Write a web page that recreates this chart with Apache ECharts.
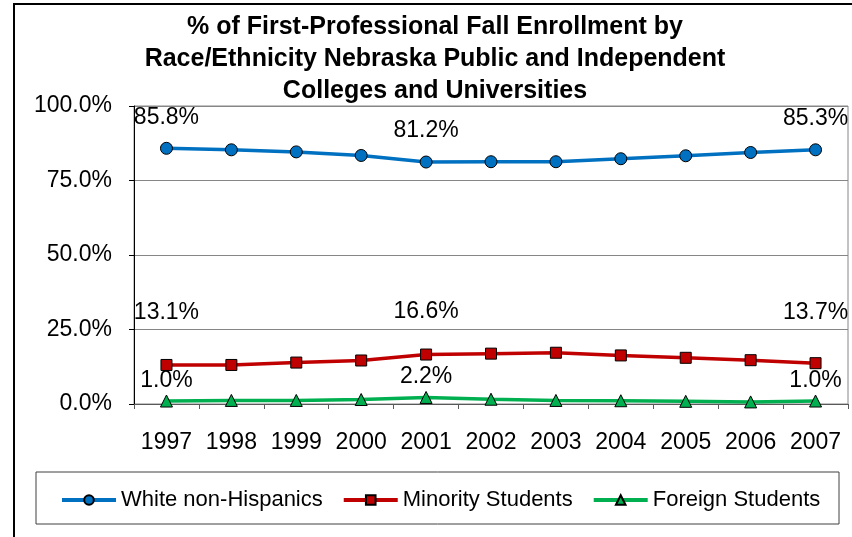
<!DOCTYPE html>
<html>
<head>
<meta charset="utf-8">
<script src="https://cdn.jsdelivr.net/npm/echarts@6/dist/echarts.min.js"></script>
<style>
  html, body { margin: 0; padding: 0; background: #fff; }
  #chart { width: 852px; height: 537px; }
</style>
</head>
<body>
<div id="chart"></div>
<script>
// 数据
const years = ['1997', '1998', '1999', '2000', '2001', '2002', '2003', '2004', '2005', '2006', '2007']
const whiteNonHispanics = [85.8, 85.3, 84.6, 83.4, 81.2, 81.3, 81.3, 82.3, 83.3, 84.4, 85.3]
const minorityStudents = [13.1, 13.1, 13.9, 14.6, 16.6, 16.9, 17.2, 16.3, 15.5, 14.7, 13.7]
const foreignStudents = [1.0, 1.2, 1.2, 1.5, 2.2, 1.6, 1.2, 1.1, 0.9, 0.7, 1.0]
const labelIndexes = [0, 4, 10]

const FONT = "'Liberation Sans', Arial, sans-serif"

// 只在几个年份显示数据标签，每个标签的距离单独设置
function withLabels(values, distances) {
  return values.map((v, i) => {
    const k = labelIndexes.indexOf(i)
    if (k < 0) return v
    return {
      value: v,
      label: { show: true, distance: distances[k] },
    }
  })
}

function makeSeries(name, values, color, symbol, size, distances) {
  return {
    name: name,
    type: 'line',
    data: withLabels(values, distances),
    symbol: symbol,
    symbolSize: size,
    itemStyle: { color: color, borderColor: '#000', borderWidth: 1 },
    lineStyle: { color: color, width: 3.5 },
    label: {
      show: false,
      position: 'top',
      formatter: (p) => p.value.toFixed(1) + '%',
      fontFamily: FONT,
      fontSize: 23,
      color: '#000',
    },
    emphasis: { disabled: true },
    animation: false,
  }
}

const chart = echarts.init(document.getElementById('chart'))

const option = {
  animation: false,
  title: {
    text: '% of First-Professional Fall Enrollment by\nRace/Ethnicity Nebraska Public and Independent\nColleges and Universities',
    left: 430,
    textAlign: 'center',
    top: 6,
    textStyle: {
      fontFamily: FONT,
      fontSize: 25,
      fontWeight: 'bold',
      lineHeight: 32,
      color: '#000',
    },
  },
  grid: {
    left: 134,
    right: 4,
    top: 106,
    bottom: 133,
    show: true,
    borderColor: '#868686',
    borderWidth: 1,
  },
  legend: {
    left: 60,
    top: 489,
    padding: 0,
    itemWidth: 54,
    itemHeight: 12,
    itemGap: 19,
    lineStyle: { width: 4 },
    textStyle: { fontFamily: FONT, fontSize: 22, color: '#000' },
    data: ['White non-Hispanics', 'Minority Students', 'Foreign Students'],
  },
  xAxis: {
    type: 'category',
    data: years,
    boundaryGap: true,
    axisLine: { lineStyle: { color: '#595959', width: 1 } },
    axisTick: { show: true, length: 5, lineStyle: { color: '#595959' } },
    axisLabel: {
      fontFamily: FONT,
      fontSize: 23,
      color: '#000',
      margin: 27,
      interval: 0,
      hideOverlap: false,
    },
  },
  yAxis: {
    type: 'value',
    min: 0,
    max: 100,
    interval: 25,
    axisLine: { show: true, lineStyle: { color: '#000', width: 1 } },
    axisTick: { show: true, length: 5, lineStyle: { color: '#000' } },
    axisLabel: {
      fontFamily: FONT,
      fontSize: 23,
      color: '#000',
      margin: 22,
      formatter: (v) => v.toFixed(1) + '%',
    },
    splitLine: { lineStyle: { color: '#868686', width: 1 } },
  },
  graphic: [
    // 外框
    {
      type: 'rect',
      shape: { x: 14, y: 4, width: 900, height: 600 },
      style: { fill: 'none', stroke: '#000', lineWidth: 2 },
      silent: true,
    },
    // 图例框
    {
      type: 'rect',
      shape: { x: 36, y: 472, width: 803, height: 52 },
      style: { fill: 'none', stroke: '#404040', lineWidth: 1 },
      silent: true,
    },
  ],
  series: [
    makeSeries('White non-Hispanics', whiteNonHispanics, '#0070C0', 'circle', 12, [13, 13, 13]),
    makeSeries('Minority Students', minorityStudents, '#C00000', 'rect', 11, [35, 25, 33]),
    makeSeries('Foreign Students', foreignStudents, '#00B050', 'triangle', 12, [2, 3, 2]),
  ],
}

chart.setOption(option)
</script>
</body>
</html>
